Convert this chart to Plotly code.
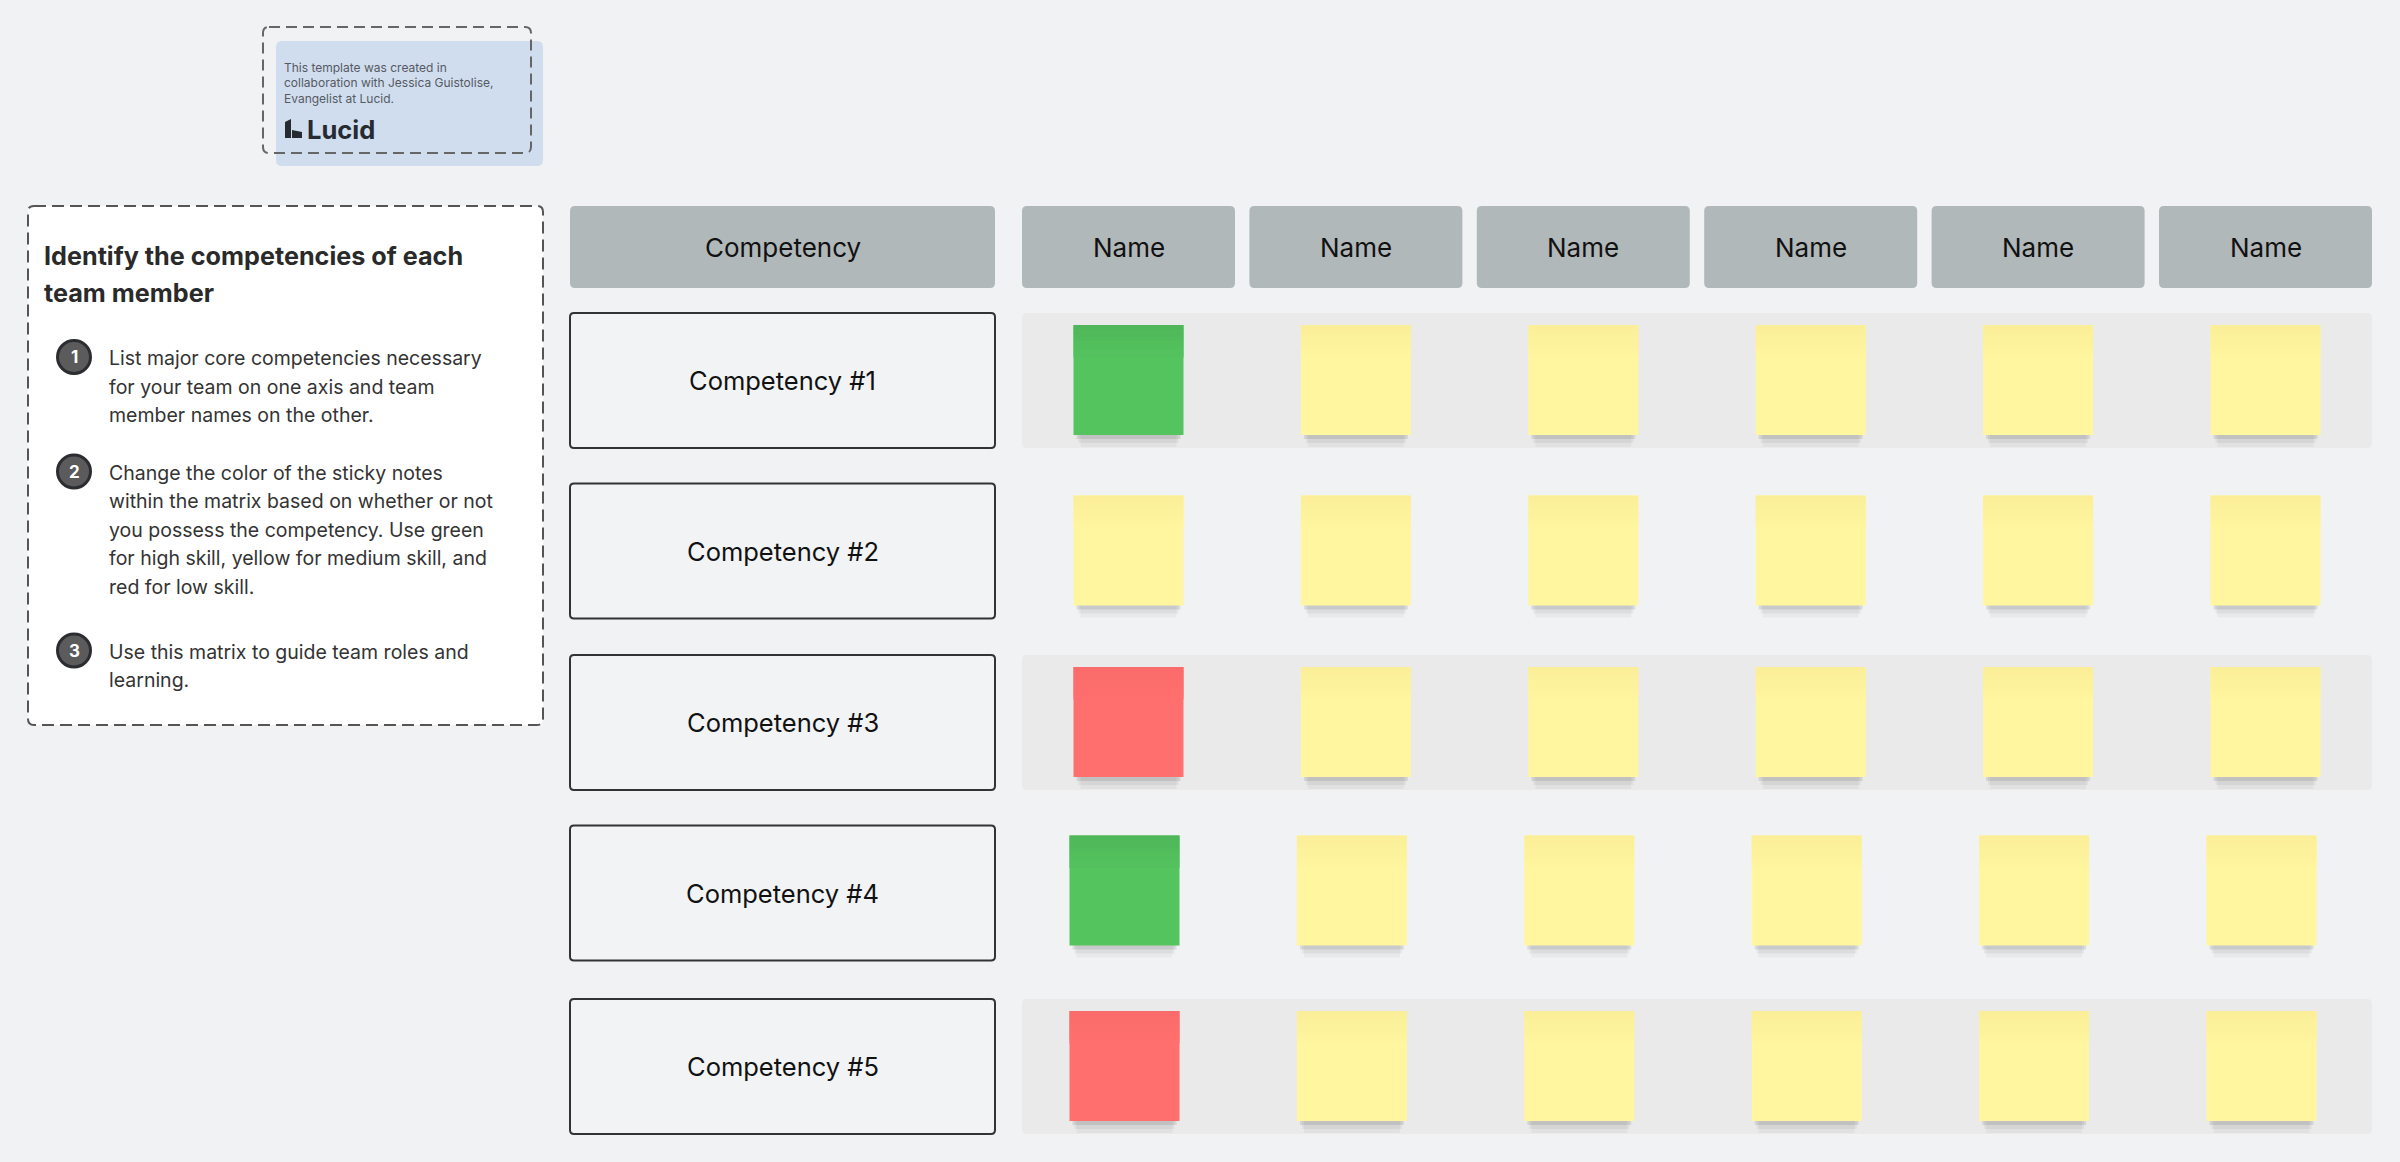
import plotly.graph_objects as go

# ---------------- data ----------------
header_label = "Competency"
competencies = ["Competency #1", "Competency #2", "Competency #3", "Competency #4", "Competency #5"]
members = ["Name", "Name", "Name", "Name", "Name", "Name"]
skill = [
    ["high", "medium", "medium", "medium", "medium", "medium"],
    ["medium", "medium", "medium", "medium", "medium", "medium"],
    ["low", "medium", "medium", "medium", "medium", "medium"],
    ["high", "medium", "medium", "medium", "medium", "medium"],
    ["low", "medium", "medium", "medium", "medium", "medium"],
]
panel_title_lines = ["Identify the competencies of each", "team member"]
steps = [
    ["List major core competencies necessary",
     "for your team on one axis and team",
     "member names on the other."],
    ["Change the color of the sticky notes",
     "within the matrix based on whether or not",
     "you possess the competency. Use green",
     "for high skill, yellow for medium skill, and",
     "red for low skill."],
    ["Use this matrix to guide team roles and",
     "learning."],
]
credit_lines = ["This template was created in",
                "collaboration with Jessica Guistolise,",
                "Evangelist at Lucid."]
brand = "Lucid"

# ---------------- style / geometry ----------------
W, H = 2400, 1162
BG = "#F1F2F4"
FONT = "Inter"
SKILL_COLORS = {          # (top tint, base)
    "high": ((79, 183, 89), (84, 196, 95)),
    "medium": ((250, 239, 152), (255, 246, 159)),
    "low": ((250, 108, 107), (255, 111, 110)),
}
COMP_X0, COMP_X1 = 570, 995
HEAD_Y0, HEAD_Y1 = 206, 288
COL_X0, COL_STEP, COL_W = 1022, 227.4, 213
ROW_Y0, ROW_STEP, ROW_H = 313, 171.5, 135
STICKY, STICKY_PAD = 110, 12
ROW_X_NUDGE = [0, 0, 0, -4, -4]
ROW_Y_NUDGE = [0, -1, -1, -2, 0]
STICKY_Y_NUDGE = [0, 0, 0, -2, 0]
GRAD_STEPS, GRAD_H = 8, 32

shapes = []
annotations = []


def rrect(x0, y0, x1, y1, r):
    return (f"M{x0+r},{y0} L{x1-r},{y0} Q{x1},{y0} {x1},{y0+r} L{x1},{y1-r} "
            f"Q{x1},{y1} {x1-r},{y1} L{x0+r},{y1} Q{x0},{y1} {x0},{y1-r} "
            f"L{x0},{y0+r} Q{x0},{y0} {x0+r},{y0} Z")


def add_path(path, fill=None, line_color=None, width=0, dash=None):
    line = dict(width=width)
    if line_color:
        line["color"] = line_color
    if dash:
        line["dash"] = dash
    shapes.append(dict(type="path", xref="x", yref="y", path=path,
                       fillcolor=fill if fill else "rgba(0,0,0,0)",
                       line=line, layer="below"))


def add_rect(x0, y0, x1, y1, fill, opacity=1.0):
    shapes.append(dict(type="rect", xref="x", yref="y", x0=x0, y0=y0, x1=x1, y1=y1,
                       fillcolor=fill, opacity=opacity, line=dict(width=0), layer="below"))


def rgb(c):
    return "rgb(%d,%d,%d)" % tuple(round(v) for v in c)


def text(x, baseline, s, size, color="#111111", bold=False, anchor="left"):
    annotations.append(dict(
        x=x, y=baseline - 0.36 * size, xref="x", yref="y", text=s, showarrow=False,
        xanchor=anchor, yanchor="middle",
        font=dict(family=FONT, size=size, color=color, weight=700 if bold else 400)))


def ctext(x, y, s, size, color="#111111"):
    annotations.append(dict(
        x=x, y=y, xref="x", yref="y", text=s, showarrow=False,
        xanchor="center", yanchor="middle",
        font=dict(family=FONT, size=size, color=color)))


# ---- credit card (Lucid) ----
add_path(rrect(276, 41, 543, 166, 6), fill="#D0DDEF")
add_path(rrect(263, 27, 531, 153, 6), line_color="#666666", width=2, dash="11px,6px")
for i, ln in enumerate(credit_lines):
    text(282, 72 + i * 15.3, ln, 12, color="#555a60")
add_path("M285,122 L291,119 L291,138 L285,138 Z", fill="#262A31")
add_path("M292,130 L302,132 L302,138 L292,138 Z", fill="#262A31")
text(305, 139, brand, 25.5, color="#262A31", bold=True)

# ---- instruction panel ----
add_path(rrect(28, 206, 543, 725, 6), fill="#FFFFFF", line_color="#555555", width=2, dash="12px,6px")
for i, ln in enumerate(panel_title_lines):
    text(42, 265.4 + i * 36.6, ln, 25.2, color="#2A2A2A", bold=True)
step_centers = [357, 471.5, 650.5]
for k, lines in enumerate(steps):
    cy = step_centers[k]
    shapes.append(dict(type="circle", xref="x", yref="y", x0=74 - 16.5, y0=cy - 16.5,
                       x1=74 + 16.5, y1=cy + 16.5, fillcolor="#5B5B5B",
                       line=dict(color="#2B2D31", width=3), layer="below"))
    annotations.append(dict(x=74, y=cy, xref="x", yref="y", text=str(k + 1), showarrow=False,
                            xanchor="center", yanchor="middle",
                            font=dict(family=FONT, size=17, color="#FFFFFF", weight=700)))
    for j, ln in enumerate(lines):
        text(107, cy + 8.5 + j * 28.5, ln, 19.5, color="#333333")

# ---- matrix headers ----
add_path(rrect(COMP_X0, HEAD_Y0, COMP_X1, HEAD_Y1, 5), fill="#B1B8B9")
ctext((COMP_X0 + COMP_X1) / 2, (HEAD_Y0 + HEAD_Y1) / 2, header_label, 26)
for j, nm in enumerate(members):
    x0 = COL_X0 + j * COL_STEP
    add_path(rrect(x0, HEAD_Y0, x0 + COL_W, HEAD_Y1, 5), fill="#B1B8B9")
    ctext(x0 + COL_W / 2, (HEAD_Y0 + HEAD_Y1) / 2, nm, 26)

# ---- rows ----
band_x1 = COL_X0 + (len(members) - 1) * COL_STEP + COL_W
for i, comp in enumerate(competencies):
    y0 = ROW_Y0 + i * ROW_STEP + ROW_Y_NUDGE[i]
    y1 = y0 + ROW_H
    if i % 2 == 0:
        add_path(rrect(COL_X0, y0, band_x1, y1, 5), fill="#EAEAEA")
    add_path(rrect(COMP_X0, y0, COMP_X1, y1, 4), fill="#F2F3F5", line_color="#333333", width=2)
    ctext((COMP_X0 + COMP_X1) / 2, (y0 + y1) / 2, comp, 25.5)
    for j, lvl in enumerate(skill[i]):
        cx = COL_X0 + j * COL_STEP + COL_W / 2 + ROW_X_NUDGE[i]
        sx0, sx1 = cx - STICKY / 2, cx + STICKY / 2
        sy0 = y0 + STICKY_PAD + STICKY_Y_NUDGE[i]
        sy1 = sy0 + STICKY
        # soft drop shadow
        add_rect(sx0 + 7, sy1 - 10, sx1 - 7, sy1 + 12, "#000000", 0.035)
        add_rect(sx0 + 5, sy1 - 10, sx1 - 5, sy1 + 8, "#000000", 0.05)
        add_rect(sx0 + 3, sy1 - 10, sx1 - 3, sy1 + 4, "#000000", 0.09)
        top, base = SKILL_COLORS[lvl]
        add_rect(sx0, sy0, sx1, sy1, rgb(base))
        step_h = GRAD_H / GRAD_STEPS
        for g in range(GRAD_STEPS):
            t = g / GRAD_STEPS
            col = tuple(a + (b - a) * t for a, b in zip(top, base))
            add_rect(sx0, sy0 + g * step_h, sx1, sy0 + (g + 1) * step_h + 0.5, rgb(col))

fig = go.Figure()
fig.add_trace(go.Scatter(x=[0, W], y=[0, H], mode="markers",
                         marker=dict(opacity=0), hoverinfo="skip", showlegend=False))
fig.update_layout(
    width=W, height=H, margin=dict(l=0, r=0, t=0, b=0),
    paper_bgcolor=BG, plot_bgcolor=BG,
    xaxis=dict(range=[0, W], visible=False, fixedrange=True),
    yaxis=dict(range=[H, 0], visible=False, fixedrange=True),
    shapes=shapes, annotations=annotations, showlegend=False,
)
fig.write_html("out.html", config={"displayModeBar": False, "staticPlot": True},
               post_script="document.body.style.margin='0';document.body.style.overflow='hidden';")
